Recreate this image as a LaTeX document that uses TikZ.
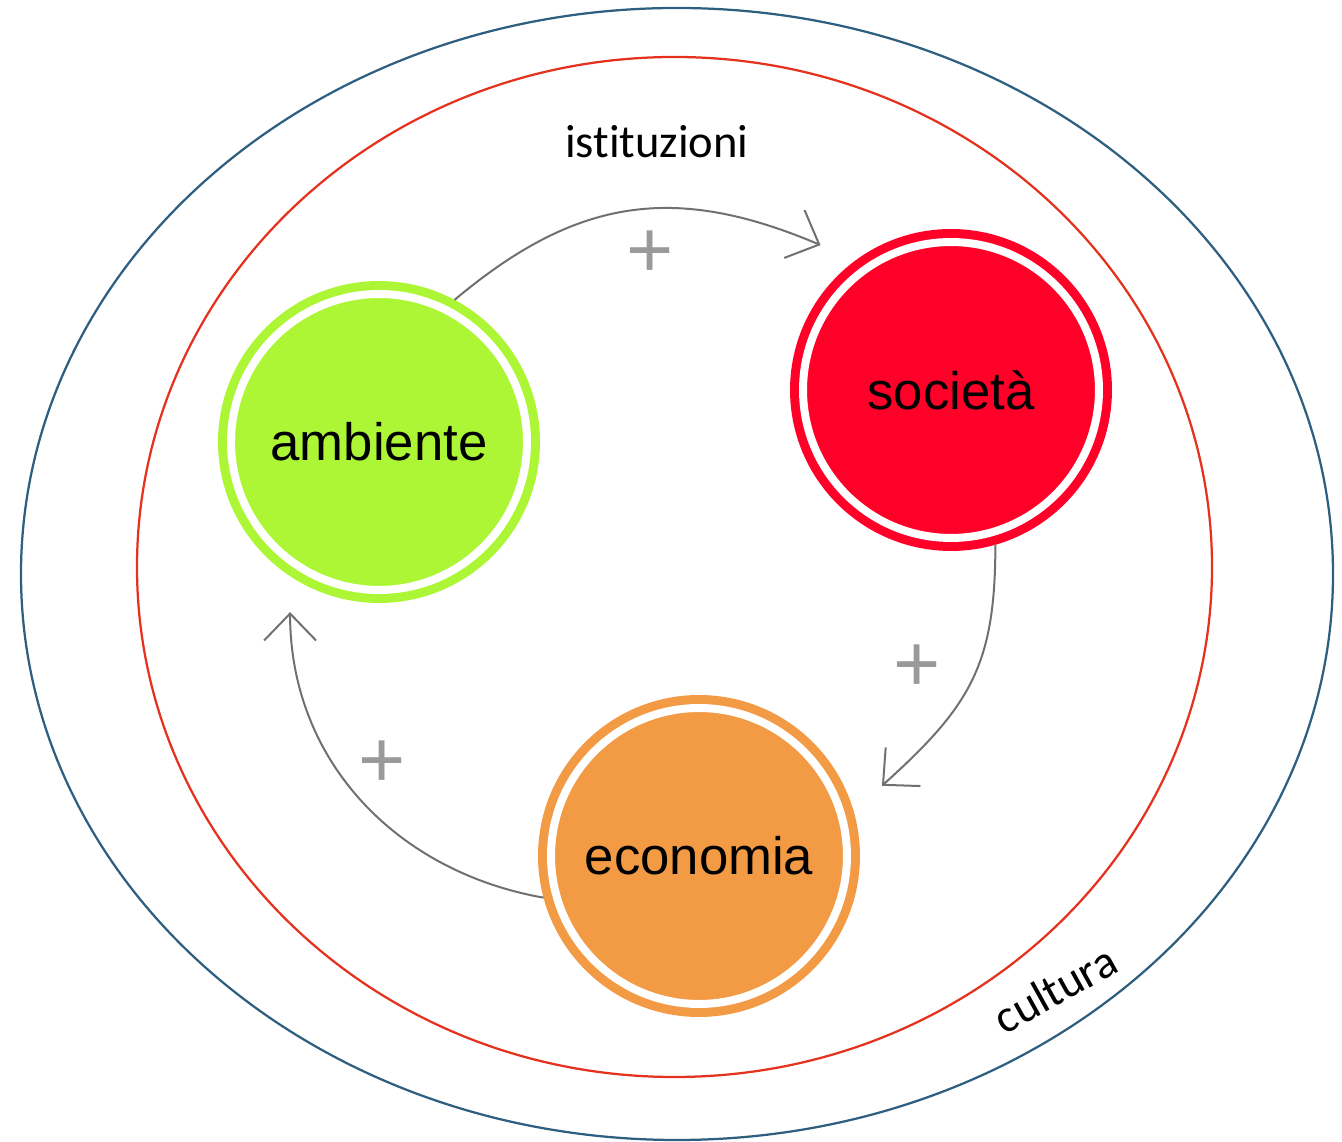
\documentclass[tikz,border=0pt]{standalone}
\usepackage{fontspec}
\setmainfont{Carlito}[RawFeature={-liga,-clig,-dlig,-calt}]
\newfontfamily\helv{Liberation Sans}
\usetikzlibrary{calc,arrows.meta}
\definecolor{ambc}{HTML}{ADF635}
\definecolor{socc}{HTML}{FF0028}
\definecolor{ecoc}{HTML}{F29A44}
\definecolor{outc}{HTML}{2F5F80}
\definecolor{inc}{HTML}{E5321E}
\definecolor{arrc}{HTML}{707070}
\definecolor{plusc}{HTML}{9A9A9A}
\tikzset{
  ball/.style={circle, inner sep=0pt, minimum size=5.92cm, fill=#1, draw=#1,
    line width=0.18cm, double=white, double distance=0.16cm,
    font=\helv\fontsize{30}{36}\selectfont, text=black},
  loop/.style={draw=arrc, line width=0.04cm,
    -{Straight Barb[length=0.54cm, width=1.04cm]}},
  plus/.style={font=\helv\fontsize{46}{50}\selectfont, text=plusc, inner sep=0pt},
  lbl/.style={font=\fontsize{26.5}{30}\selectfont, inner sep=0pt}
}
\begin{document}
\begin{tikzpicture}[x=0.02cm, y=0.02cm]
\useasboundingbox (0,0) rectangle (1342,1142);
\draw[outc, line width=0.045cm] (677,568) ellipse [x radius=656, y radius=566];
\draw[inc, line width=0.045cm] (674.5,575) ellipse [x radius=537.5, y radius=510];
\node[lbl] (ist) at (657,1000) {istituzioni};
\node[lbl, rotate=29] (cul) at (1055,153) {cultura};
\node[ball=ambc] (amb) at (379,700) {ambiente};
\node[ball=socc] (soc) at (951,752) {società};
\node[ball=ecoc] (eco) at (699,286) {economia};
\coordinate (a1s) at ($(amb.center)+(62:3.22cm)$);
\coordinate (a1e) at ($(soc.center)+(132:3.9cm)$);
\coordinate (a2s) at ($(soc.center)+(-74:3.22cm)$);
\coordinate (a2e) at ($(eco.center)+(21:3.92cm)$);
\coordinate (a3s) at ($(eco.center)+(195:3.22cm)$);
\coordinate (a3e) at ($(amb.center)+(242.4:3.84cm)$);
\draw[loop] (a1s) to[out=40, in=157, looseness=1.1] (a1e);
\draw[loop] (a2s) to[out=-90, in=42, looseness=1.15] (a2e);
\draw[loop] (a3s) to[out=170, in=-90] (a3e);
\node[plus] (p1) at (650,888) {+};
\node[plus] (p2) at (917,474) {+};
\node[plus] (p3) at (382,378) {+};
\end{tikzpicture}
\end{document}
